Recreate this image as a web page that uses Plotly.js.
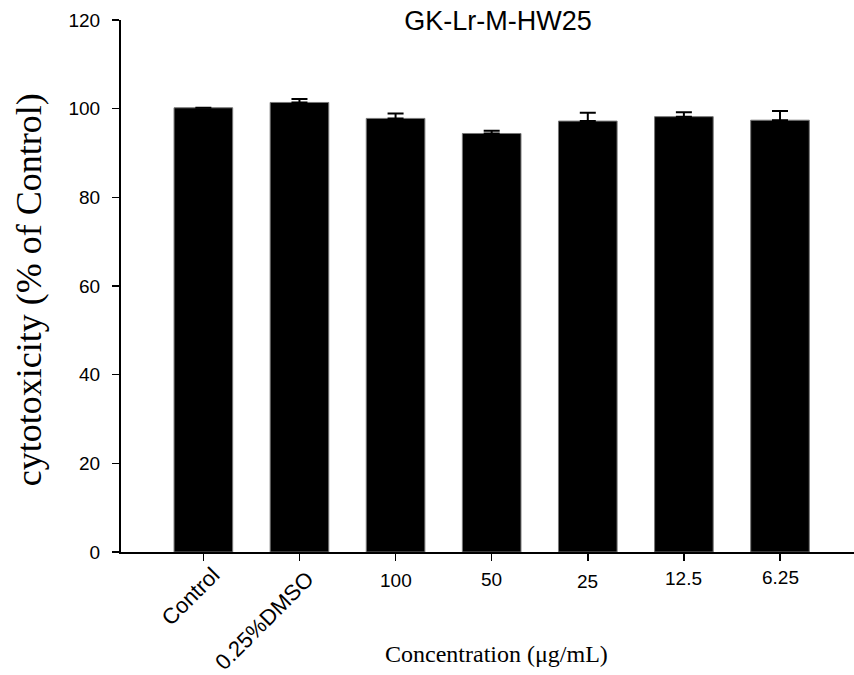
<!DOCTYPE html>
<html>
<head>
<meta charset="utf-8">
<script src="https://cdn.plot.ly/plotly-3.0.1.min.js"></script>
<style>html,body{margin:0;padding:0;background:#fff;}#chart{width:854px;height:675px;}</style>
</head>
<body>
<div id="chart"></div>
<script>
const categories = ["Control", "0.25%DMSO", "100", "50", "25", "12.5", "6.25"];
const values = [100.2, 101.4, 97.8, 94.4, 97.2, 98.2, 97.4];
const errors = [0, 0.8, 1.1, 0.6, 1.9, 1.0, 2.1];
const yTicks = [0, 20, 40, 60, 80, 100, 120];
const chartTitle = "GK-Lr-M-HW25";
const xTitle = "Concentration (\u03bcg/mL)";
const yTitle = "cytotoxicity (% of Control)";

// label placement (pixels): [angle, xshift, pixel y of centre, font size]
const labelPlacement = [[-45, -13, 596, 22], [-45, -35, 620, 22], [0, 0, 580, 19], [0, 0, 579, 19], [0, 0, 581, 19], [0, 0, 578, 19], [0, 0, 577, 19]];

const plotLeft = 121, plotRight = 854, plotTop = 20, plotBottom = 551.7, W = 854, H = 675;
function paperY(py) { return (plotBottom - py) / (plotBottom - plotTop); }
function paperX(px) { return (px - plotLeft) / (plotRight - plotLeft); }

const sans = "Liberation Sans, Arial, sans-serif";
const serif = "Liberation Serif, Times New Roman, serif";

const annotations = categories.map((c, i) => ({
  x: i, xref: "x", y: paperY(labelPlacement[i][2]), yref: "paper",
  text: c, showarrow: false, textangle: labelPlacement[i][0],
  xanchor: "center", yanchor: "middle", xshift: labelPlacement[i][1],
  font: {family: sans, size: labelPlacement[i][3], color: "#000"}
}));
annotations.push({
  x: paperX(496), xref: "paper", y: paperY(654), yref: "paper", text: xTitle,
  showarrow: false, xanchor: "center", yanchor: "middle",
  font: {family: serif, size: 24, color: "#000"}
});
annotations.push({
  x: paperX(29), xref: "paper", y: paperY(290), yref: "paper", text: yTitle,
  showarrow: false, textangle: -90, xanchor: "center", yanchor: "middle",
  font: {family: serif, size: 36, color: "#000"}
});

const trace = {
  type: "bar", x: categories.map((c, i) => i), y: values, width: 0.61,
  marker: {color: "#000", line: {color: "#777", width: 1}},
  error_y: {type: "data", array: errors, arrayminus: errors.map(() => 0), visible: true, color: "#000", thickness: 2, width: 8},
  hoverinfo: "skip"
};

const layout = {
  width: W, height: H,
  font: {family: sans, size: 19, color: "#000"},
  margin: {l: plotLeft, r: W - plotRight, t: plotTop, b: H - plotBottom},
  paper_bgcolor: "#fff", plot_bgcolor: "#fff",
  showlegend: false,
  title: {text: chartTitle, font: {family: sans, size: 27, color: "#000"}, xref: "container", x: 498 / W, xanchor: "center", yref: "container", y: 1 - 21 / H, yanchor: "middle"},
  xaxis: {range: [-0.857, 6.77], tickvals: categories.map((c, i) => i), showticklabels: false,
    ticks: "outside", ticklen: 7, tickwidth: 1.5, tickcolor: "#000",
    showline: true, linecolor: "#000", linewidth: 2, showgrid: false, zeroline: false, fixedrange: true},
  yaxis: {range: [0, 120], tickmode: "array", tickvals: yTicks, ticktext: yTicks.map(String),
    ticks: "outside", ticklen: 7, tickwidth: 1.5, tickcolor: "#000", ticklabelstandoff: 8,
    tickfont: {family: sans, size: 19, color: "#000"},
    showline: true, linecolor: "#000", linewidth: 2, showgrid: false, zeroline: false, fixedrange: true},
  annotations: annotations
};

Plotly.newPlot("chart", [trace], layout, {displayModeBar: false, staticPlot: true});
</script>
</body>
</html>
